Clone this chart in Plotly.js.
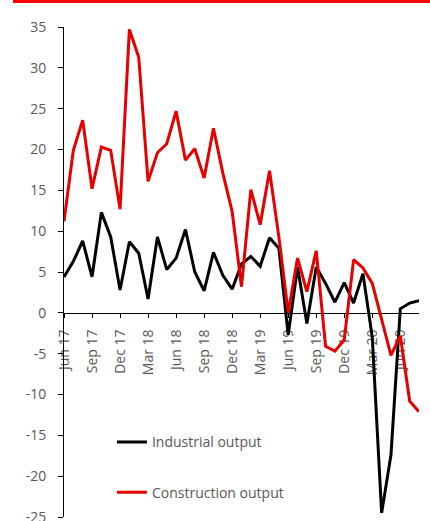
<!DOCTYPE html>
<html>
<head>
<meta charset="utf-8">
<script src="https://cdn.plot.ly/plotly-3.0.1.min.js"></script>
<style>
html,body{margin:0;padding:0;background:#fff;}
#chart{width:430px;height:521px;}
</style>
</head>
<body>
<div id="chart"></div>
<script>
var months = ["Jun 17","Jul 17","Aug 17","Sep 17","Oct 17","Nov 17","Dec 17","Jan 18","Feb 18","Mar 18","Apr 18","May 18","Jun 18","Jul 18","Aug 18","Sep 18","Oct 18","Nov 18","Dec 18","Jan 19","Feb 19","Mar 19","Apr 19","May 19","Jun 19","Jul 19","Aug 19","Sep 19","Oct 19","Nov 19","Dec 19","Jan 20","Feb 20","Mar 20","Apr 20","May 20","Jun 20","Jul 20","Aug 20"];
var industrial = [4.4,6.3,8.8,4.4,12.3,9.3,2.8,8.7,7.3,1.7,9.3,5.3,6.7,10.2,5.0,2.7,7.4,4.6,2.9,6.0,6.9,5.7,9.2,7.9,-2.7,5.6,-1.3,5.6,3.6,1.3,3.7,1.2,4.8,-3.0,-24.5,-17.4,0.5,1.2,1.5];
var construction = [11.2,19.9,23.6,15.2,20.3,19.9,12.7,34.7,31.3,16.1,19.6,20.7,24.7,18.7,20.1,16.5,22.6,17.1,12.4,3.2,15.1,10.8,17.4,9.3,0.0,6.7,2.6,7.6,-4.1,-4.7,-3.3,6.5,5.5,3.6,-0.8,-5.2,-2.8,-10.8,-12.1];
var xTickLabels = ["Jun 17","Sep 17","Dec 17","Mar 18","Jun 18","Sep 18","Dec 18","Mar 19","Jun 19","Sep 19","Dec 19","Mar 20","Jun 20"];
var yTickVals = [-25,-20,-15,-10,-5,0,5,10,15,20,25,30,35];
var yTickText = ["-25","-20","-15","-10","-5","0","5","10","15","20","25","30","35"];
var seriesNames = ["Industrial output","Construction output"];

var FONT = "'Open Sans', 'Noto Sans', sans-serif";
var traces = [
  {x: months, y: industrial, name: seriesNames[0], type: 'scatter', mode: 'lines',
   line: {color: '#000000', width: 3}, legendgroup: 'a'},
  {x: months, y: construction, name: seriesNames[1], type: 'scatter', mode: 'lines',
   line: {color: '#e60000', width: 3}, legendgroup: 'b'}
];
var layout = {
  width: 430, height: 521,
  margin: {l: 64, r: 11, t: 27, b: 4, pad: 0},
  paper_bgcolor: '#ffffff', plot_bgcolor: '#ffffff',
  font: {family: FONT, size: 14, color: '#595959'},
  showlegend: true,
  legend: {x: 0.135, xanchor: 'left', y: 0.185, yanchor: 'top', bgcolor: 'rgba(0,0,0,0)',
           tracegroupgap: 29, font: {family: FONT, size: 14, color: '#595959'}},
  xaxis: {type: 'category', range: [0, 38], anchor: 'free', position: 25/60,
          showline: true, linecolor: '#000000', linewidth: 1, showgrid: false, zeroline: false,
          ticks: 'outside', ticklen: 4, tickcolor: '#000000', tickwidth: 1,
          tickmode: 'array', tickvals: xTickLabels, ticktext: xTickLabels, tickangle: -90,
          ticklabelstandoff: 6, layer: 'below traces', ticklabeloverflow: 'allow',
          tickfont: {family: FONT, size: 14, color: '#595959'}, fixedrange: true},
  yaxis: {range: [-25, 35], showline: true, linecolor: '#000000', linewidth: 1,
          showgrid: false, zeroline: false, ticks: 'outside', ticklen: 5, tickcolor: '#000000',
          tickmode: 'array', tickvals: yTickVals, ticktext: yTickText, ticklabeloverflow: 'allow',
          ticklabelstandoff: 9, tickfont: {family: FONT, size: 14, color: '#595959'}, fixedrange: true},
  shapes: [{type: 'rect', xref: 'paper', yref: 'paper', x0: -0.1437, x1: 1.031, y0: 1.049, y1: 1.0551,
            fillcolor: '#ff0000', line: {width: 0}, layer: 'above'}]
};
Plotly.newPlot('chart', traces, layout, {displayModeBar: false, staticPlot: true});
</script>
</body>
</html>
